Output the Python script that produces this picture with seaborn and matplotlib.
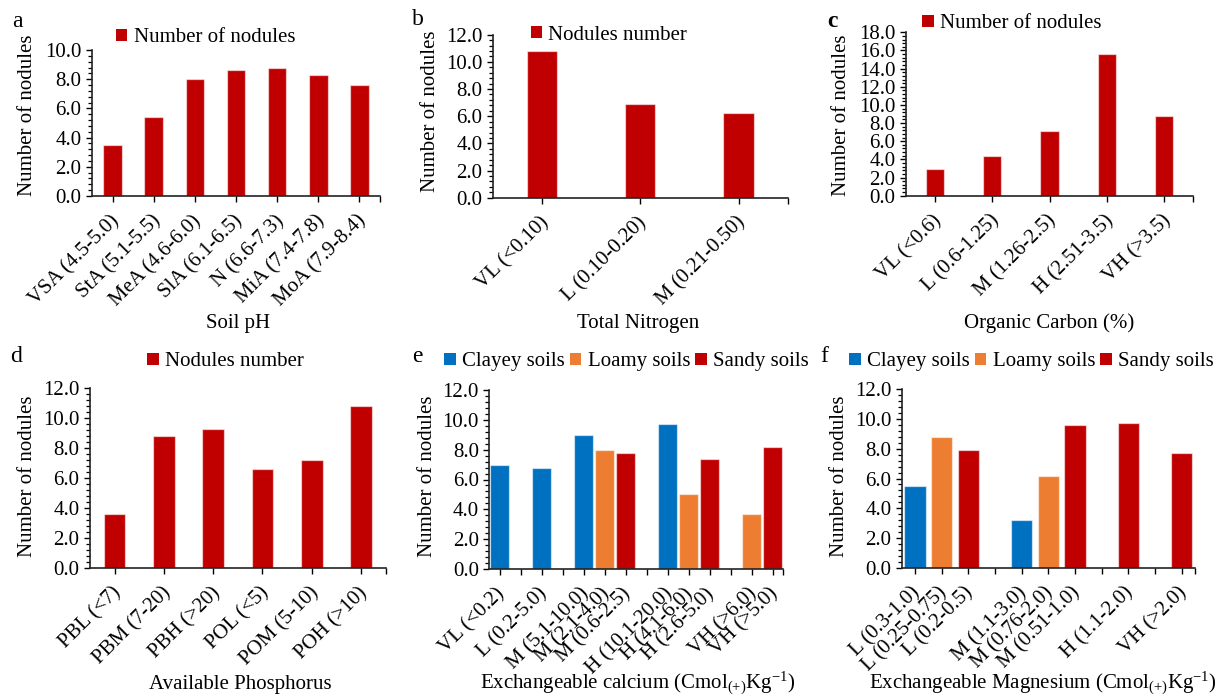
import matplotlib
matplotlib.use("Agg")
import matplotlib.pyplot as plt
import matplotlib.transforms as mtransforms
from matplotlib.patches import Patch
from matplotlib.ticker import MultipleLocator, AutoMinorLocator, FormatStrFormatter
import seaborn as sns
import pandas as pd

# ---------------- data ----------------
ph_labels = ["VSA (4.5-5.0)", "StA (5.1-5.5)", "MeA (4.6-6.0)", "SlA (6.1-6.5)",
             "N (6.6-7.3)", "MiA (7.4-7.8)", "MoA (7.9-8.4)"]
ph_values = [3.5, 5.4, 8.0, 8.6, 8.8, 8.3, 7.6]

n_labels = ["VL (<0.10)", "L (0.10-0.20)", "M (0.21-0.50)"]
n_values = [10.8, 6.9, 6.2]

oc_labels = ["VL (<0.6)", "L (0.6-1.25)", "M (1.26-2.5)", "H (2.51-3.5)", "VH (>3.5)"]
oc_values = [2.9, 4.4, 7.1, 15.6, 8.8]

p_labels = ["PBL (<7)", "PBM (7-20)", "PBH (>20)", "POL (<5)", "POM (5-10)", "POH (>10)"]
p_values = [3.6, 8.8, 9.3, 6.6, 7.2, 10.8]

soil_types = ["Clayey soils", "Loamy soils", "Sandy soils"]

ca_labels = ["VL (<0.2)", "L (0.2-5.0)", "M (5.1-10.0)", "M (2.1-4.0)", "M (0.6-2.5)",
             "H (10.1-20.0)", "H (4.1-6.0)", "H (2.6-5.0)", "VH (>6.0)", "VH (>5.0)"]
ca_soils = ["Clayey soils", "Clayey soils", "Clayey soils", "Loamy soils", "Sandy soils",
            "Clayey soils", "Loamy soils", "Sandy soils", "Loamy soils", "Sandy soils"]
ca_values = [7.0, 6.8, 9.0, 8.0, 7.8, 9.7, 5.0, 7.4, 3.7, 8.2]
ca_axis_order = ["VL (<0.2)", " ", "L (0.2-5.0)", "  ", "M (5.1-10.0)", "M (2.1-4.0)",
                 "M (0.6-2.5)", "   ", "H (10.1-20.0)", "H (4.1-6.0)", "H (2.6-5.0)",
                 "    ", "VH (>6.0)", "VH (>5.0)"]

mg_labels = ["L (0.3-1.0)", "L (0.25-0.75)", "L (0.2-0.5)", "M (1.1-3.0)", "M (0.76-2.0)",
             "M (0.51-1.0)", "H (1.1-2.0)", "VH (>2.0)"]
mg_soils = ["Clayey soils", "Loamy soils", "Sandy soils", "Clayey soils", "Loamy soils",
            "Sandy soils", "Sandy soils", "Sandy soils"]
mg_values = [5.5, 8.8, 7.9, 3.2, 6.2, 9.6, 9.7, 7.7]
mg_axis_order = ["L (0.3-1.0)", "L (0.25-0.75)", "L (0.2-0.5)", " ", "M (1.1-3.0)",
                 "M (0.76-2.0)", "M (0.51-1.0)", "  ", "H (1.1-2.0)", "   ", "VH (>2.0)"]

RED = "#C00000"
BLUE = "#0070C0"
ORANGE = "#ED7D31"
soil_palette = {"Clayey soils": BLUE, "Loamy soils": ORANGE, "Sandy soils": RED}

# ---------------- style ----------------
sns.set_style("ticks")
plt.rcParams["font.family"] = ["Liberation Serif", "DejaVu Serif"]
plt.rcParams["mathtext.fontset"] = "custom"
plt.rcParams["mathtext.rm"] = "Liberation Serif"
plt.rcParams["mathtext.it"] = "Liberation Serif:italic"
plt.rcParams["text.color"] = "black"
plt.rcParams["axes.labelcolor"] = "black"
plt.rcParams["xtick.color"] = "black"
plt.rcParams["ytick.color"] = "black"
plt.rcParams["axes.edgecolor"] = "#222222"

FS = 15
W, H = 1222, 697
fig = plt.figure(figsize=(W / 100, H / 100), dpi=100)


def fx(px):
    return px / W


def fy(py):
    return 1 - py / H


def make_panel(box, labels, values, soils, order, hue_order, palette, width, ymax,
               legend_pos, letter, letter_pos, xlabel, xlabel_pos, ylabel_pos,
               letter_bold=False, label_shift=4):
    l, t, r, b = box
    ax = fig.add_axes([fx(l), fy(b), fx(r - l), (b - t) / H])
    df = pd.DataFrame({"cat": labels, "val": values, "soil": soils})
    sns.barplot(data=df, x="cat", y="val", hue="soil", order=order,
                hue_order=hue_order, palette=palette, dodge=False, width=width,
                errorbar=None, saturation=1, legend=False, ax=ax,
                edgecolor=(1, 1, 1, 0.55), linewidth=0.9)
    n = len(order)
    sns.despine(ax=ax)
    ax.set_xlim(-0.5, n - 0.5)
    ax.set_ylim(0, ymax)
    ax.yaxis.set_major_locator(MultipleLocator(2))
    ax.yaxis.set_minor_locator(AutoMinorLocator(5))
    ax.yaxis.set_major_formatter(FormatStrFormatter("%.1f"))
    ax.tick_params(axis="y", which="major", direction="out", length=4.5, width=1,
                   labelsize=FS, pad=3)
    ax.tick_params(axis="y", which="minor", direction="out", length=3, width=0.9)
    ax.set_xticks(list(range(n)) + [n - 0.5])
    ax.set_xticklabels([o.strip() for o in order] + [""])
    ax.tick_params(axis="x", which="major", direction="out", length=4, width=1,
                   labelsize=FS, pad=12)
    offset = mtransforms.ScaledTranslation(label_shift / 100, 0, fig.dpi_scale_trans)
    for lbl in ax.get_xticklabels():
        lbl.set_rotation(45)
        lbl.set_ha("right")
        lbl.set_va("center")
        lbl.set_rotation_mode("anchor")
        lbl.set_transform(lbl.get_transform() + offset)
    for sp in ["left", "bottom"]:
        ax.spines[sp].set_linewidth(1.2)

    ax.set_xlabel(xlabel, fontsize=FS, va="baseline", ha="center")
    ax.xaxis.set_label_coords(fx(xlabel_pos[0]), fy(xlabel_pos[1]), transform=fig.transFigure)
    ax.set_ylabel("Number of nodules", fontsize=FS, va="center", ha="center")
    ax.yaxis.set_label_coords(fx(ylabel_pos[0]), fy(ylabel_pos[1]), transform=fig.transFigure)

    handles = [Patch(facecolor=palette[h], edgecolor="none") for h in hue_order]
    ax.legend(handles, hue_order, loc="center left",
              bbox_to_anchor=(fx(legend_pos[0]), fy(legend_pos[1])),
              bbox_transform=fig.transFigure, frameon=False, borderpad=0,
              borderaxespad=0, handlelength=0.55, handleheight=0.55,
              handletextpad=0.3, columnspacing=0.25, ncol=len(hue_order),
              fontsize=FS)
    fig.text(fx(letter_pos[0]), fy(letter_pos[1]), letter, fontsize=17,
             ha="left", va="baseline", fontweight="bold" if letter_bold else "normal")
    return ax


single = {"Number of nodules": RED, "Nodules number": RED}

make_panel((92, 50, 380, 196), ph_labels, ph_values, ["Number of nodules"] * len(ph_labels),
           ph_labels, ["Number of nodules"], single, 0.45, 10.0,
           (116, 38), "a", (12, 27), "Soil pH", (238, 328), (28, 115))

make_panel((492.7, 34.7, 787.7, 197.7), n_labels, n_values, ["Nodules number"] * len(n_labels),
           n_labels, ["Nodules number"], single, 0.31, 12.0,
           (530.7, 35), "b", (412, 25), "Total Nitrogen", (637.7, 328), (431, 111))

make_panel((906, 32.3, 1193, 195.7), oc_labels, oc_values, ["Number of nodules"] * len(oc_labels),
           oc_labels, ["Number of nodules"], single, 0.32, 18.0,
           (922.3, 24), "c", (827, 27), "Organic Carbon (%)", (1049, 328), (841, 115),
           letter_bold=True)

make_panel((90, 388.3, 385.7, 568), p_labels, p_values, ["Nodules number"] * len(p_labels),
           p_labels, ["Nodules number"], single, 0.44, 12.0,
           (147.3, 361.7), "d", (10, 362), "Available Phosphorus", (240, 689), (28, 476))

make_panel((489.3, 390, 783.3, 569), ca_labels, ca_values, ca_soils,
           ca_axis_order, soil_types, soil_palette, 0.9, 12.0,
           (444.3, 361.7), "e", (412, 362),
           r"Exchangeable calcium (Cmol$_{\mathrm{(+)}}$Kg$^{\mathrm{-1}}$)", (638, 689), (427, 476),
           label_shift=2)

make_panel((901.7, 389, 1195, 568), mg_labels, mg_values, mg_soils,
           mg_axis_order, soil_types, soil_palette, 0.8, 12.0,
           (849.3, 361.7), "f", (820, 362),
           r"Exchangeable Magnesium (Cmol$_{\mathrm{(+)}}$Kg$^{\mathrm{-1}}$)", (1043, 689), (840, 476),
           label_shift=2)

fig.savefig("out.png", dpi=100)
